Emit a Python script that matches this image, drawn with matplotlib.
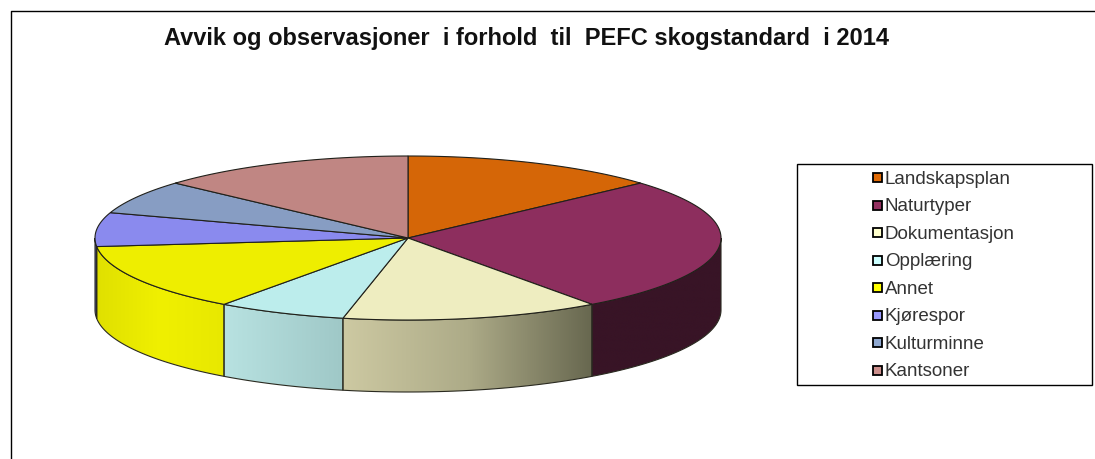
import numpy as np
import matplotlib
matplotlib.use('Agg')
import matplotlib.pyplot as plt
from matplotlib.colors import LinearSegmentedColormap
from matplotlib.patches import Polygon, Rectangle

plt.rcParams['font.family'] = ['Liberation Sans', 'DejaVu Sans']

labels = ['Landskapsplan', 'Naturtyper', 'Dokumentasjon', 'Opplæring',
          'Annet', 'Kjørespor', 'Kulturminne', 'Kantsoner']
values = [8, 16, 8, 4, 8, 4, 4, 8]

top_colors = ['#d56607', '#8d2e5e', '#eeedc0', '#bcedec',
              '#eeee00', '#8a8aee', '#879dc3', '#c08683']
legend_colors = ['#e06a06', '#933060', '#ffffcc', '#ccffff',
                 '#ffff00', '#9999ff', '#8fa8d0', '#cc8f8c']
# side colours run left to right across each slice
side_colors = [['#5a2b03', '#5a2b03'], ['#381426', '#381426'],
               ['#cdc9a2', '#adab88', '#67674f'], ['#b8e2e1', '#9fc8c7'],
               ['#e0e000', '#f0f000', '#e8e800'], ['#55559a', '#3c3c80'],
               ['#879dc3', '#879dc3'], ['#c08683', '#c08683']]

cx, cy = 408, 238
rx, ry = 313, 82
depth = 72

fig = plt.figure(figsize=(10.95, 4.59), dpi=100)
ax = fig.add_axes([0, 0, 1, 1])


def rim(a):
    a = np.radians(a)
    return cx + rx * np.sin(a), cy - ry * np.cos(a)


edges = np.concatenate([[0], np.cumsum(values)]) * 360 / sum(values)

# side walls, only the front half of the disc shows
for i in range(len(values)):
    a0, a1 = max(edges[i], 90), min(edges[i + 1], 270)
    if a1 <= a0:
        continue
    t = np.linspace(a0, a1, 80)
    x, y = rim(t)
    pts = np.r_[np.c_[x, y], np.c_[x[::-1], y[::-1] + depth]]
    wall = Polygon(pts, closed=True, facecolor='none', edgecolor='none')
    ax.add_patch(wall)
    cmap = LinearSegmentedColormap.from_list('side', side_colors[i])
    grad = np.linspace(0, 1, 256).reshape(1, -1)
    im = ax.imshow(grad, cmap=cmap, aspect='auto', interpolation='bilinear',
                   extent=(x.min(), x.max(), y.max() + depth, y.min()), zorder=2)
    im.set_clip_path(wall)
    ax.add_patch(Polygon(pts, closed=True, facecolor='none', edgecolor='#2a2a20',
                         linewidth=0.8, zorder=3))

# top of the pie
for i in range(len(values)):
    t = np.linspace(edges[i], edges[i + 1], 120)
    x, y = rim(t)
    pts = np.r_[[[cx, cy]], np.c_[x, y]]
    ax.add_patch(Polygon(pts, closed=True, facecolor=top_colors[i],
                         edgecolor='#20201a', linewidth=0.8, zorder=4))

# outer frame, open on the right and at the bottom
ax.plot([11, 11, 1095], [459, 11, 11], color='black', linewidth=1.0, zorder=1)

ax.text(527, 38, 'Avvik og observasjoner  i forhold  til  PEFC skogstandard  i 2014',
        ha='center', va='center', fontsize=17.0, fontweight='bold', color='#111111')

# legend
ax.add_patch(Rectangle((797, 164), 295, 221, facecolor='white', edgecolor='black',
                       linewidth=1.0, zorder=5))
rows = np.linspace(177.5, 370.5, len(labels))
for lab, col, yy in zip(labels, legend_colors, rows):
    ax.add_patch(Rectangle((872.5, yy - 4.5), 9, 9, facecolor=col, edgecolor='black',
                           linewidth=1.3, zorder=6))
    ax.text(885, yy + 1.5, lab, ha='left', va='center', fontsize=13.5,
            color='#333333', zorder=6)

ax.set_xlim(0, 1095)
ax.set_ylim(459, 0)
ax.axis('off')

fig.savefig('out.png', dpi=100)
